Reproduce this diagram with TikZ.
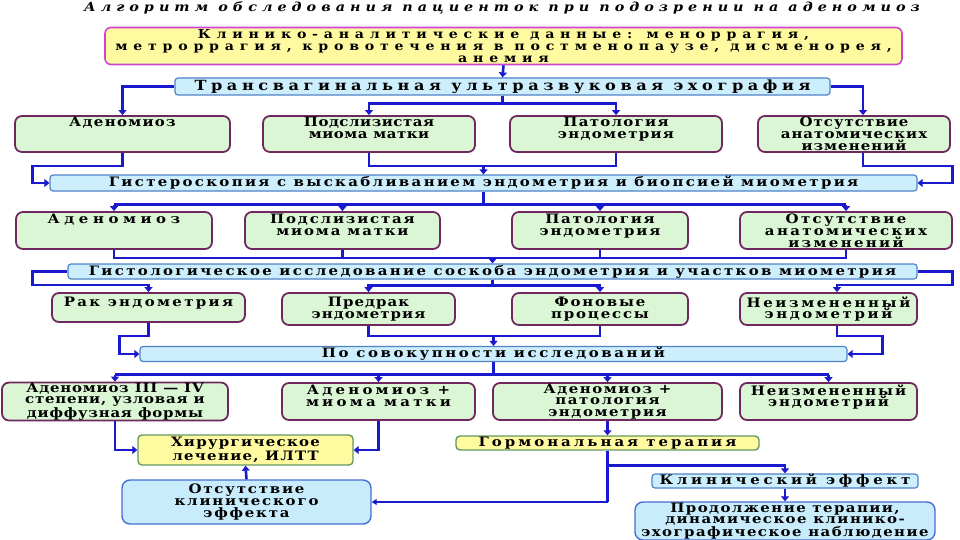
\documentclass[tikz,border=0pt]{standalone}
\usepackage{fontspec}
\usetikzlibrary{arrows.meta,calc}
\newfontfamily\wf{DejaVu Serif}[FakeStretch=1.15]
\definecolor{ablue}{RGB}{25,25,205}
\definecolor{yfill}{RGB}{255,250,160}
\definecolor{ymag}{RGB}{205,70,205}
\definecolor{ygrn}{RGB}{100,150,100}
\definecolor{bfill}{RGB}{205,238,252}
\definecolor{bbord}{RGB}{80,130,200}
\definecolor{gfill}{RGB}{218,246,212}
\definecolor{gbord}{RGB}{110,40,95}
\definecolor{ofill}{RGB}{200,236,252}
\definecolor{obord}{RGB}{70,110,215}
\begin{document}
\begin{tikzpicture}[x=1pt,y=-1pt,
  tx/.style={font={\wf\bfseries\fontsize{13}{11.8}\selectfont\addfontfeature{LetterSpace=#1}}},
  txb/.style={font={\wf\bfseries\fontsize{14}{11.6}\selectfont\addfontfeature{LetterSpace=#1}}},
  txc/.style={font={\wf\bfseries\fontsize{12.3}{12}\selectfont\addfontfeature{LetterSpace=#1}}},
  base/.style={inner sep=0pt, align=center, text=black},
  ybox/.style={base, draw=ymag, fill=yfill, line width=1.6pt, rounded corners=6pt},
  hbox/.style={base, draw=ygrn, fill=yfill, line width=1.4pt, rounded corners=4pt},
  bbar/.style={base, draw=bbord, fill=bfill, line width=1.2pt, rounded corners=3pt},
  gbox/.style={base, draw=gbord, fill=gfill, line width=1.8pt, rounded corners=7pt},
  obox/.style={base, draw=obord, fill=ofill, line width=1.4pt, rounded corners=8pt},
  ln/.style={draw=ablue, line width=2.6pt},
  conn/.style={ln, -{Triangle[width=8pt,length=5pt]}},
  thinconn/.style={draw=ablue, line width=1.2pt, -{Triangle[width=6pt,length=5pt]}}
]
\useasboundingbox (0,0) rectangle (960,540);

\node[base, font={\wf\bfseries\itshape\fontsize{12.5}{12}\selectfont\addfontfeature{LetterSpace=40}}] (title) at (502,8) {Алгоритм обследования пациенток при подозрении на аденомиоз};

\node[ybox, txc=47, minimum width=797, minimum height=37] (b1) at (503.5,46) {Клинико-аналитические данные: меноррагия,\\метроррагия, кровотечения в постменопаузе, дисменорея,\\анемия};
\node[bbar, txb=33, minimum width=655, minimum height=17] (b2) at (502.5,86.5) {Трансвагинальная ультразвуковая эхография};

\node[gbox, tx=10, minimum width=215, minimum height=36] (r3a) at (122.5,134) {Аденомиоз\\~\\~};
\node[gbox, tx=4, minimum width=212, minimum height=36] (r3b) at (369,134) {Подслизистая\\миома матки\\~};
\node[gbox, tx=10, minimum width=212, minimum height=36] (r3c) at (616,134) {Патология\\эндометрия\\~};
\node[gbox, tx=8, minimum width=192, minimum height=36] (r3d) at (854,134) {Отсутствие\\анатомических\\изменений};

\node[bbar, tx=18, minimum width=867, minimum height=16] (b3) at (483.5,183) {Гистероскопия с выскабливанием эндометрия и биопсией миометрия};

\node[gbox, tx=35, minimum width=196, minimum height=37] (r5a) at (114,230.5) {Аденомиоз\\~\\~};
\node[gbox, tx=14, minimum width=195, minimum height=37] (r5b) at (342.5,230.5) {Подслизистая\\миома матки\\~};
\node[gbox, tx=14, minimum width=176, minimum height=37] (r5c) at (600,230.5) {Патология\\эндометрия\\~};
\node[gbox, tx=18, minimum width=212, minimum height=37] (r5d) at (846,230.5) {Отсутствие\\анатомических\\изменений};

\node[bbar, tx=18, minimum width=849, minimum height=15] (b4) at (492.5,271.5) {Гистологическое исследование соскоба эндометрия и участков миометрия};

\node[gbox, tx=18, minimum width=193, minimum height=29] (r7a) at (148.5,307.5) {Рак эндометрия\\~};
\node[gbox, tx=8, minimum width=173, minimum height=32] (r7b) at (368.5,309) {Предрак\\эндометрия};
\node[gbox, tx=14, minimum width=176, minimum height=32] (r7c) at (600,309) {Фоновые\\процессы};
\node[gbox, tx=20, minimum width=177, minimum height=32] (r7d) at (828.5,309) {Неизмененный\\эндометрий};

\node[bbar, tx=20, minimum width=707, minimum height=15] (b5) at (493.5,354) {По совокупности исследований};

\node[gbox, tx=6, minimum width=226, minimum height=37] (r9a) at (115,401.5) {Аденомиоз III — IV\\степени, узловая и\\диффузная формы};
\node[gbox, tx=25, minimum width=193, minimum height=37] (r9b) at (378.5,401.5) {Аденомиоз +\\миома матки\\~};
\node[gbox, tx=12, minimum width=229, minimum height=37] (r9c) at (607.5,401.5) {Аденомиоз +\\патология\\эндометрия};
\node[gbox, tx=14, minimum width=177, minimum height=37] (r9d) at (828.5,401.5) {Неизмененный\\эндометрий\\~};

\node[hbox, tx=10, minimum width=215, minimum height=30] (hir) at (245.5,450) {Хирургическое\\лечение, ИЛТТ};
\node[hbox, tx=23, minimum width=303, minimum height=14] (gorm) at (607.5,443) {Гормональная терапия};
\node[obox, tx=14, minimum width=249, minimum height=44] (ots) at (246.5,502) {Отсутствие\\клинического\\эффекта};
\node[bbar, tx=29, minimum width=266, minimum height=14] (klin) at (785,481) {Клинический эффект};
\node[obox, tx=11, minimum width=300, minimum height=38] (prod) at (785,521) {Продолжение терапии,\\динамическое клинико-\\эхографическое наблюдение};

% connectors
\draw[conn] (b1.south) -- (b2.north);
\draw[conn] (b2.west) -| (r3a.north);
\draw[conn] (b2.east) -| ($(r3d.north)+(9,0)$);
\draw[ln] (b2.south) -- ++(0,8) coordinate (j1);
\draw[conn] (j1) -| (r3b.north);
\draw[conn] (j1) -| (r3c.north);

\draw[conn] (r3a.south) -- ++(0,13) -| ($(b3.west)+(-17,0)$) -- (b3.west);
\draw[ln] (r3b.south) -- ++(0,13) coordinate (j2) -| (r3c.south);
\draw[conn] (j2 -| b3.north) -- (b3.north);
\draw[conn] ($(r3d.south)+(9,0)$) -- ++(0,13) -| ($(b3.east)+(35,0)$) -- (b3.east);

\draw[ln] (b3.south) -- ++(0,13) coordinate (j3);
\draw[ln] (j3 -| r5a.north) -- (j3 -| r5d.north);
\foreach \n in {r5a,r5b,r5c,r5d} \draw[conn] (j3 -| \n.north) -- (\n.north);

\draw[ln] (r5a.south) -- ++(0,8) coordinate (j4) -| (r5d.south);
\draw[ln] (r5b.south) -- (r5b.south |- j4);
\draw[ln] (r5c.south) -- (r5c.south |- j4);
\draw[conn] (j4 -| b4.north) -- (b4.north);

\draw[conn] (b4.west) -- ++(-35,0) -- ++(0,13.5) -| (r7a.north);
\draw[ln] (b4.south) -- ++(0,6) coordinate (j5);
\draw[conn] (j5) -| (r7b.north);
\draw[conn] (j5) -| (r7c.north);
\draw[conn] (b4.east) -- ++(35,0) -- ++(0,13.5) -| ($(r7d.north)+(8.5,0)$);

\draw[conn] (r7a.south) -- ++(0,13) -| ($(b5.west)+(-20,0)$) -- (b5.west);
\draw[ln] (r7b.south) -- ++(0,10) coordinate (j6) -| (r7c.south);
\draw[conn] (j6 -| b5.north) -- (b5.north);
\draw[conn] ($(r7d.south)+(8.5,0)$) -- ++(0,10) -| ($(b5.east)+(35,0)$) -- (b5.east);

\draw[ln] (b5.south) -- ++(0,12.5) coordinate (j7);
\draw[ln] (j7 -| r9a.north) -- (j7 -| r9d.north);
\foreach \n in {r9a,r9b,r9c,r9d} \draw[conn] (j7 -| \n.north) -- (\n.north);

\draw[conn] (r9a.south) |- (hir.west);
\draw[conn] (r9b.south) |- (hir.east);
\draw[conn] (r9c.south) -- (gorm.north);
\draw[ln] (gorm.south) -- ++(0,15) coordinate (j8);
\draw[conn] (j8) -| (klin.north);
\draw[ln] (j8) -- (j8 |- ots.east) coordinate (j9);
\draw[thinconn] (j9) -- (ots.east);
\draw[conn] (ots.north) -- (hir.south);
\draw[conn] (klin.south) -- (prod.north);
\end{tikzpicture}
\end{document}
